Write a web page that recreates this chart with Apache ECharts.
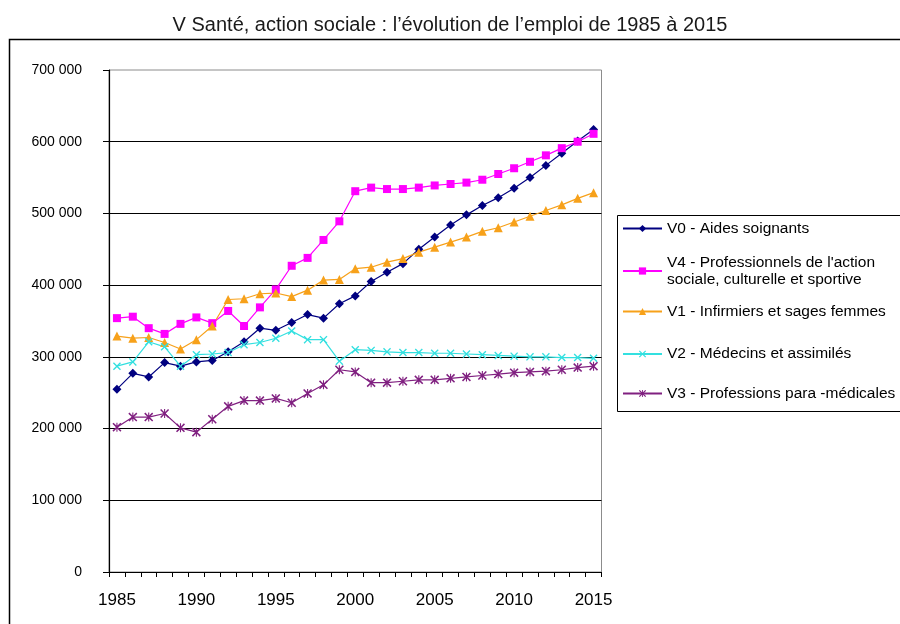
<!DOCTYPE html>
<html>
<head>
<meta charset="utf-8">
<script src="https://cdn.jsdelivr.net/npm/echarts@6/dist/echarts.min.js"></script>
<style>html,body{margin:0;padding:0;background:#fff}#c{width:900px;height:624px}</style>
</head>
<body>
<div id="c"></div>
<script>
const years = ['1985','1986','1987','1988','1989','1990','1991','1992','1993','1994','1995','1996','1997','1998','1999','2000','2001','2002','2003','2004','2005','2006','2007','2008','2009','2010','2011','2012','2013','2014','2015'];

const v0 = [255000,277000,272000,292000,287000,293000,295000,307000,321000,340000,337000,348000,359000,354000,374000,385000,405000,418000,430000,450000,467000,484000,498000,511000,522000,535000,550000,567000,584000,601000,617000];
const v4 = [354000,356000,340000,332000,346000,355000,347000,364000,343000,369000,394000,427000,438000,463000,489000,531000,536000,534000,534000,536000,539000,541000,543000,547000,555000,563000,572000,581000,591000,600000,611000];
const v1 = [329000,326000,327000,320000,311000,324000,343000,380000,381000,388000,389000,384000,393000,407000,408000,423000,425000,432000,437000,446000,453000,460000,467000,475000,480000,488000,496000,504000,512000,521000,529000];
const v2 = [287000,293000,321000,314000,287000,303000,304000,306000,317000,320000,326000,336000,324000,324000,294000,310000,309000,307000,306000,306000,305000,305000,304000,303000,302000,301000,300000,300000,299000,299000,298000];
const v3 = [202000,216000,216000,221000,201000,195000,213000,231000,239000,239000,242000,236000,249000,261000,282000,279000,264000,264000,266000,268000,268000,270000,272000,274000,276000,278000,279000,280000,282000,285000,287000];

const names = [
  'V0 - Aides soignants',
  "V4 - Professionnels de l'action\nsociale, culturelle et sportive",
  'V1 - Infirmiers et sages femmes',
  'V2 - Médecins et assimilés',
  'V3 - Professions para -médicales'
];
const titleText = "V Santé, action sociale : l’évolution de l’emploi de 1985 à 2015";

const FONT = '"Liberation Sans", Arial, Helvetica, sans-serif';
const xPath = 'path://M0,1.2 L1.2,0 L5,3.8 L8.8,0 L10,1.2 L6.2,5 L10,8.8 L8.8,10 L5,6.2 L1.2,10 L0,8.8 L3.8,5 Z';
const starPath = 'path://M0,1.2 L1.2,0 L5,3.8 L8.8,0 L10,1.2 L6.2,5 L10,8.8 L8.8,10 L5,6.2 L1.2,10 L0,8.8 L3.8,5 Z M4.4,0 L5.6,0 L5.6,10 L4.4,10 Z';

const seriesDefs = [
  {name: names[0], data: v0, color: '#000080', symbol: 'diamond', size: 9},
  {name: names[1], data: v4, color: '#FF00FF', symbol: 'rect', size: 8},
  {name: names[2], data: v1, color: '#F7A11A', symbol: 'triangle', size: 9},
  {name: names[3], data: v2, color: '#33E0E0', symbol: xPath, size: 8},
  {name: names[4], data: v3, color: '#802080', symbol: starPath, size: 9}
];

const legendTops = [220, 245.5, 303, 345.5, 385];

const legends = seriesDefs.map((s, i) => ({
  data: [s.name],
  left: 622,
  top: legendTops[i],
  padding: 0,
  itemWidth: 39,
  itemHeight: 9,
  selectedMode: false,
  textStyle: {
    fontFamily: FONT, fontSize: 15.5, color: '#000', lineHeight: 17,
    padding: i === 1 ? [17, 0, 0, 0] : 0
  }
}));

const chart = echarts.init(document.getElementById('c'), null, {renderer: 'canvas'});
chart.setOption({
  animation: false,
  backgroundColor: '#fff',
  title: {
    text: titleText,
    left: 'center',
    top: 10,
    textStyle: {fontFamily: FONT, fontSize: 20, fontWeight: 'normal', color: '#1a1a1a'}
  },
  graphic: [
    {type: 'rect', z: -10, shape: {x: 9.5, y: 39.5, width: 900, height: 600}, style: {fill: 'none', stroke: '#000', lineWidth: 1.5}},
    {type: 'rect', z: -10, shape: {x: 617.5, y: 215.5, width: 300, height: 196}, style: {fill: '#fff', stroke: '#000', lineWidth: 1}}
  ],
  legend: legends,
  grid: {left: 109, right: 298.5, top: 70, bottom: 52, show: true, borderColor: '#8c8c8c', borderWidth: 1, backgroundColor: 'transparent'},
  xAxis: {
    type: 'category',
    data: years,
    boundaryGap: true,
    axisLine: {lineStyle: {color: '#000', width: 1.2}},
    axisTick: {show: true, interval: 0, length: 5, lineStyle: {color: '#000'}},
    axisLabel: {interval: 4, margin: 20, fontFamily: FONT, fontSize: 17, color: '#000'},
    splitLine: {show: false}
  },
  yAxis: {
    type: 'value',
    min: 0, max: 700000, interval: 100000,
    axisLine: {show: true, lineStyle: {color: '#000', width: 1.2}},
    axisTick: {show: true, length: 6, lineStyle: {color: '#000'}},
    axisLabel: {
      margin: 27, fontFamily: FONT, fontSize: 14, color: '#000',
      formatter: v => String(v).replace(/\B(?=(\d{3})+(?!\d))/g, ' ')
    },
    splitLine: {show: true, showMaxLine: false, lineStyle: {color: '#000', width: 1}}
  },
  series: seriesDefs.map(s => ({
    type: 'line',
    name: s.name,
    data: s.data,
    symbol: s.symbol,
    symbolSize: s.size,
    showAllSymbol: true,
    color: s.color,
    lineStyle: {color: s.color, width: 1.2},
    itemStyle: {color: s.color},
    emphasis: {disabled: true}
  }))
});
</script>
</body>
</html>
